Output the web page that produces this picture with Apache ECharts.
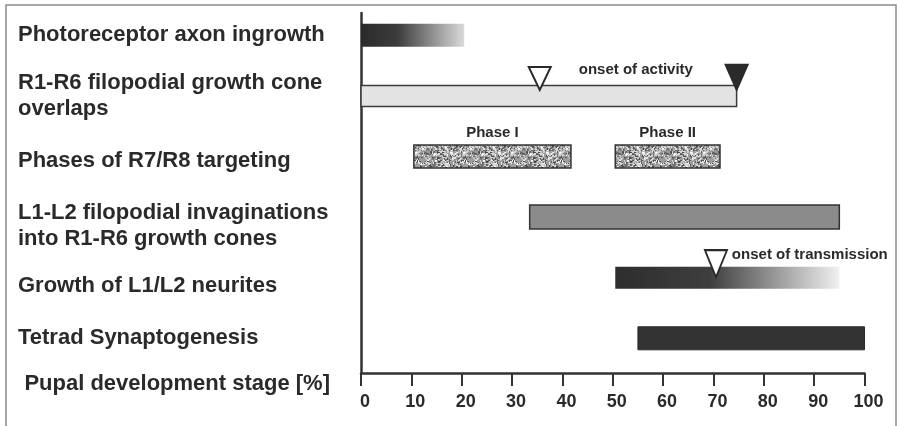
<!DOCTYPE html>
<html><head><meta charset="utf-8">
<script src="https://cdn.jsdelivr.net/npm/echarts@6/dist/echarts.min.js"></script>
<style>html,body{margin:0;padding:0;background:#fff}#c{width:900px;height:426px}</style>
</head><body><div id="c"></div>
<script>
// ---- data ----
const categories = [
  'Photoreceptor axon ingrowth',
  'R1-R6 filopodial growth cone\noverlaps',
  'Phases of R7/R8 targeting',
  'L1-L2 filopodial invaginations\ninto R1-R6 growth cones',
  'Growth of L1/L2 neurites',
  'Tetrad Synaptogenesis'
];
const barRows   = [0, 1, 2, 2, 3, 4, 5];
const barStarts = [0, 0, 10.5, 50.5, 33.5, 50.5, 55];
const barEnds   = [20.5, 74.6, 41.7, 71.3, 95, 95, 100];
const barNotes  = ['', '', 'Phase I', 'Phase II', '', '', ''];
const markerX     = [35.5, 74.6, 70.5];
const markerRows  = [1, 1, 4];
const markerNotes = ['onset of activity', '', 'onset of transmission'];
const xTickLabels = ['0','10','20','30','40','50','60','70','80','90','100'];
const axisTitle = 'Pupal development stage [%]';

// ---- styling ----
const FONT = '"Liberation Sans", Arial, Helvetica, sans-serif';
function makeStipple(){
  const n = 48, c = document.createElement('canvas'); c.width = c.height = n;
  const g = c.getContext('2d'); let s = 987654;
  const rnd = () => { s = (s * 1103515245 + 12345) & 0x7fffffff; return s / 0x7fffffff; };
  g.fillStyle = '#9c9c9c'; g.fillRect(0, 0, n, n);
  for (let i = 0; i < 1100; i++) {
    const v = rnd();
    const gr = Math.round(v < 0.45 ? 70 + rnd() * 60 : 185 + rnd() * 65);
    g.fillStyle = 'rgb(' + gr + ',' + gr + ',' + gr + ')';
    g.fillRect(Math.floor(rnd() * n), Math.floor(rnd() * n), 1 + Math.floor(rnd() * 2), 1 + Math.floor(rnd() * 2));
  }
  return c;
}
const stipple = { image: makeStipple(), repeat: 'repeat' };
const grad = (stops) => new echarts.graphic.LinearGradient(0, 0, 1, 0, stops);
const barLooks = [
  { h: 23, fill: grad([{offset:0,color:'#2a2a2a'},{offset:0.35,color:'#3c3c3c'},{offset:1,color:'#dadada'}]) },
  { h: 21, fill: '#e3e3e3', stroke: '#3a3a3a', lw: 1.5 },
  { h: 23, fill: stipple, stroke: '#333', lw: 1.5 },
  { h: 23, fill: stipple, stroke: '#333', lw: 1.5 },
  { h: 24, fill: '#8b8b8b', stroke: '#333', lw: 1.5 },
  { h: 22, fill: grad([{offset:0,color:'#2e2e2e'},{offset:0.42,color:'#3e3e3e'},{offset:1,color:'#f0f0f0'}]) },
  { h: 23, fill: '#333333', stroke: '#2a2a2a', lw: 1 }
];
const markerLooks = [
  { size: [22, 23], off: -17.5, fill: '#ffffff', dist: 27 },
  { size: [22, 25], off: -18.5, fill: '#2a2a2a', dist: 5 },
  { size: [22, 27], off: -14, fill: '#ffffff', dist: 4 }
];
// downward shift of some category labels
const labelNudge = { 2: 't8', 3: 't18', 4: 't16' };
const catRich = {
  t8:  { padding: [8, 0, 0, 0] },
  t16: { padding: [16, 0, 0, 0] },
  t18: { padding: [18, 0, 0, 0] }
};
const catLabelStyle = { align: 'left', color: '#2a2a2a', fontSize: 22, fontWeight: 'bold', fontFamily: FONT, lineHeight: 26 };
Object.keys(catRich).forEach(k => Object.assign(catRich[k], catLabelStyle));

const chart = echarts.init(document.getElementById('c'), null, { renderer: 'canvas' });
const option = {
  animation: false,
  backgroundColor: '#ffffff',
  textStyle: { fontFamily: FONT },
  grid: [
    { left: 361, right: 35.5, top: 5, height: 363.6, outerBoundsMode: 'none', containLabel: false },
    { left: 361, right: 35.5, top: 13, bottom: 53, outerBoundsMode: 'none', containLabel: false }
  ],
  xAxis: [
    { gridIndex: 0, type: 'value', min: 0, max: 100, show: false },
    { gridIndex: 1, type: 'value', min: 0, max: 100, interval: 10,
      axisLine: { show: true, lineStyle: { color: '#333', width: 2.5 } },
      axisTick: { show: true, length: 13, lineStyle: { color: '#333', width: 2 } },
      axisLabel: { margin: 20, color: '#2a2a2a', fontSize: 18, fontWeight: 'bold', fontFamily: FONT,
        padding: [0, 0, 0, 8], formatter: (v) => xTickLabels[Math.round(v / 10)] },
      splitLine: { show: false },
      name: axisTitle, nameLocation: 'start', nameGap: 31,
      nameTextStyle: { color: '#2a2a2a', fontSize: 22, fontWeight: 'bold', fontFamily: FONT, align: 'right', verticalAlign: 'top' }
    }
  ],
  yAxis: [
    { gridIndex: 0, type: 'category', inverse: true, data: categories,
      axisLine: { show: false }, axisTick: { show: false }, splitLine: { show: false },
      axisLabel: Object.assign({ interval: 0, margin: 343, rich: catRich,
        formatter: (value, index) => {
          const k = labelNudge[index];
          if (!k) return value;
          return value.split('\n').map(l => '{' + k + '|' + l + '}').join('\n');
        } }, catLabelStyle)
    },
    { gridIndex: 1, type: 'value', min: 0, max: 1,
      axisLine: { show: true, lineStyle: { color: '#333', width: 2.5 } },
      axisTick: { show: false }, axisLabel: { show: false }, splitLine: { show: false } }
  ],
  series: [
    { type: 'custom', xAxisIndex: 0, yAxisIndex: 0,
      encode: { x: [1, 2], y: 0 },
      data: barRows.map((r, i) => [r, barStarts[i], barEnds[i]]),
      renderItem: function (params, api) {
        const i = params.dataIndex, look = barLooks[i];
        const row = api.value(0);
        const p0 = api.coord([api.value(1), row]);
        const p1 = api.coord([api.value(2), row]);
        const h = look.h;
        const children = [{ type: 'rect',
          shape: { x: p0[0], y: p0[1] - h / 2, width: p1[0] - p0[0], height: h },
          style: { fill: look.fill, stroke: look.stroke || null, lineWidth: look.lw || 0 } }];
        if (barNotes[i]) children.push({ type: 'text', x: (p0[0] + p1[0]) / 2, y: p0[1] - h / 2 - 5,
          style: { text: barNotes[i], align: 'center', verticalAlign: 'bottom', fill: '#2a2a2a',
            font: 'bold 15px ' + FONT } });
        return { type: 'group', children: children };
      }
    },
    { type: 'scatter', xAxisIndex: 0, yAxisIndex: 0, z: 5,
      symbol: 'path://M0,0L20,0L10,22Z', symbolKeepAspect: false,
      data: markerX.map((x, i) => ({
        value: [x, markerRows[i]],
        symbolSize: markerLooks[i].size,
        symbolOffset: [0, markerLooks[i].off],
        itemStyle: { color: markerLooks[i].fill, borderColor: '#2a2a2a', borderWidth: 2, opacity: 1 },
        label: { show: !!markerNotes[i], position: 'right', distance: markerLooks[i].dist, offset: [0, -8.5],
          formatter: () => markerNotes[i], color: '#2a2a2a', fontSize: 15, fontWeight: 'bold', fontFamily: FONT }
      }))
    }
  ],
  graphic: [
    { type: 'rect', shape: { x: 6, y: 5, width: 890, height: 440 }, silent: true, z: 100,
      style: { fill: null, stroke: '#8a8a8a', lineWidth: 1.5 } }
  ]
};
chart.setOption(option);
</script>
</body></html>
